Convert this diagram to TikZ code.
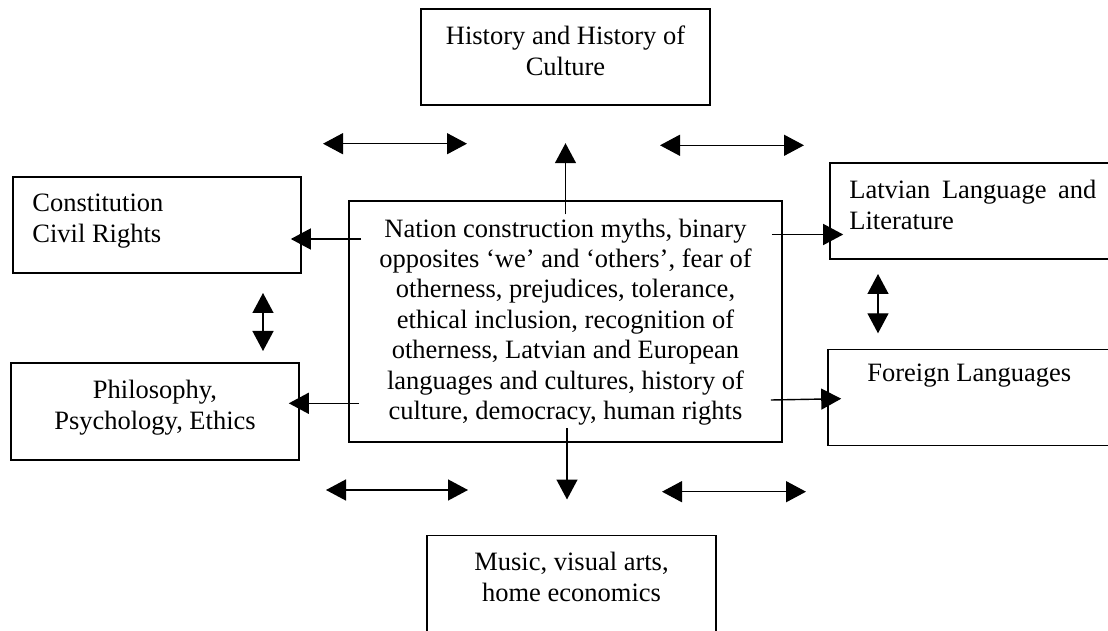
\documentclass[tikz,border=0pt]{standalone}
\usepackage{fontspec}
\setmainfont{Liberation Serif}
\usetikzlibrary{positioning}
\usetikzlibrary{arrows.meta}
\tikzset{
    mybox/.style = {rectangle, draw=black, line width=1.6pt, minimum width=289pt, minimum height=96pt, inner sep=0pt},
    mytext/.style = {inner sep=0pt, align=center, font=\fontsize{26.5}{31}\selectfont, text=black},
    mytextl/.style = {mytext, align=left},
    edgea/.style = {-{Triangle[length=20pt,width=21pt]}, line width=1.4pt, black}, % one way
    edged/.style = {{Triangle[length=20pt,width=21pt]}-{Triangle[length=20pt,width=21pt]}, line width=1.4pt, black} % both ways
}
\begin{document}
\begin{tikzpicture}[x=1pt, y=1pt]
  \useasboundingbox (0,0) rectangle (1108,630);
  % boxes
  \node[mybox] (ctr) at (565.5,308.5) [minimum width=433pt, minimum height=240.4pt] {};
  \node[mybox] (hist) at (565.5,572.7) {};
  \node[mybox] (const) at (157,404.7) [minimum width=288pt] {};
  \node[mybox] (philo) at (155,218.8) [minimum width=288pt, minimum height=97pt] {};
  \node[mybox] (latv) at (977.5,418.8) [minimum width=295pt] {};
  \node[mybox] (forn) at (976.5,232.6) [minimum width=297pt] {};
  \node[mybox] (music) at (571.5,46.7) {};
  % texts
  \node[mytext, below=18pt of ctr.north, font=\fontsize{26.5}{30.4}\selectfont] (ctrtxt)
    {Nation construction myths, binary\\opposites ‘we’ and ‘others’, fear of\\otherness, prejudices, tolerance,\\ethical inclusion, recognition of\\otherness, Latvian and European\\languages and cultures, history of\\culture, democracy, human rights};
  \node[mytext, below=17.4pt of hist.north] (histtxt) {History and History of\\Culture};
  \node[mytextl, below right=17.4pt and 20pt of const.north west] (consttxt) {Constitution\\Civil Rights};
  \node[mytext, below=18pt of philo.north] (philotxt) {Philosophy,\\Psychology, Ethics};
  \node[mytextl, below right=17.7pt and 20pt of latv.north west] (latvtxt)
    {\makebox[247pt][s]{Latvian Language and}\\Literature};
  \node[mytextl, below right=15.5pt and 40pt of forn.north west] (forntxt) {Foreign Languages};
  \node[mytext, below=17pt of music.north] (musictxt) {Music, visual arts,\\home economics};
  % free ends of the two-way arrows
  \coordinate (tl1) at (323,486.3); \coordinate (tl2) at (467,486.3);
  \coordinate (tr1) at (660,484.7); \coordinate (tr2) at (804,484.7);
  \coordinate (bl1) at (326,140); \coordinate (bl2) at (468,140);
  \coordinate (br1) at (662,138.3); \coordinate (br2) at (806,138.3);
  \coordinate (vl1) at (263,337); \coordinate (vl2) at (263,279);
  \coordinate (vr1) at (878,356); \coordinate (vr2) at (878,296.7);
  % arrows
  \draw[edgea] ([yshift=-14pt]ctr.north) -- ++(0,71.3);
  \draw[edgea] ([xshift=1.5pt,yshift=14.4pt]ctr.south) -- ++(0,-71.4);
  \draw[edgea] ([xshift=13pt,yshift=82.5pt]ctr.west) -- ([xshift=-11pt,yshift=-13.7pt]const.east);
  \draw[edgea] ([xshift=11pt,yshift=-81.8pt]ctr.west) -- ([xshift=-11pt,yshift=7.9pt]philo.east);
  \draw[edgea] ([xshift=-11pt,yshift=87pt]ctr.east) -- ([xshift=14pt,yshift=-23.3pt]latv.west);
  \draw[edgea] ([xshift=-12pt,yshift=-78.5pt]ctr.east) -- ([xshift=14pt,yshift=-1.3pt]forn.west);
  \foreach \a/\b in {tl1/tl2, tr1/tr2, bl1/bl2, br1/br2, vl1/vl2, vr1/vr2}
    \draw[edged] (\a) -- (\b);
\end{tikzpicture}
\end{document}
